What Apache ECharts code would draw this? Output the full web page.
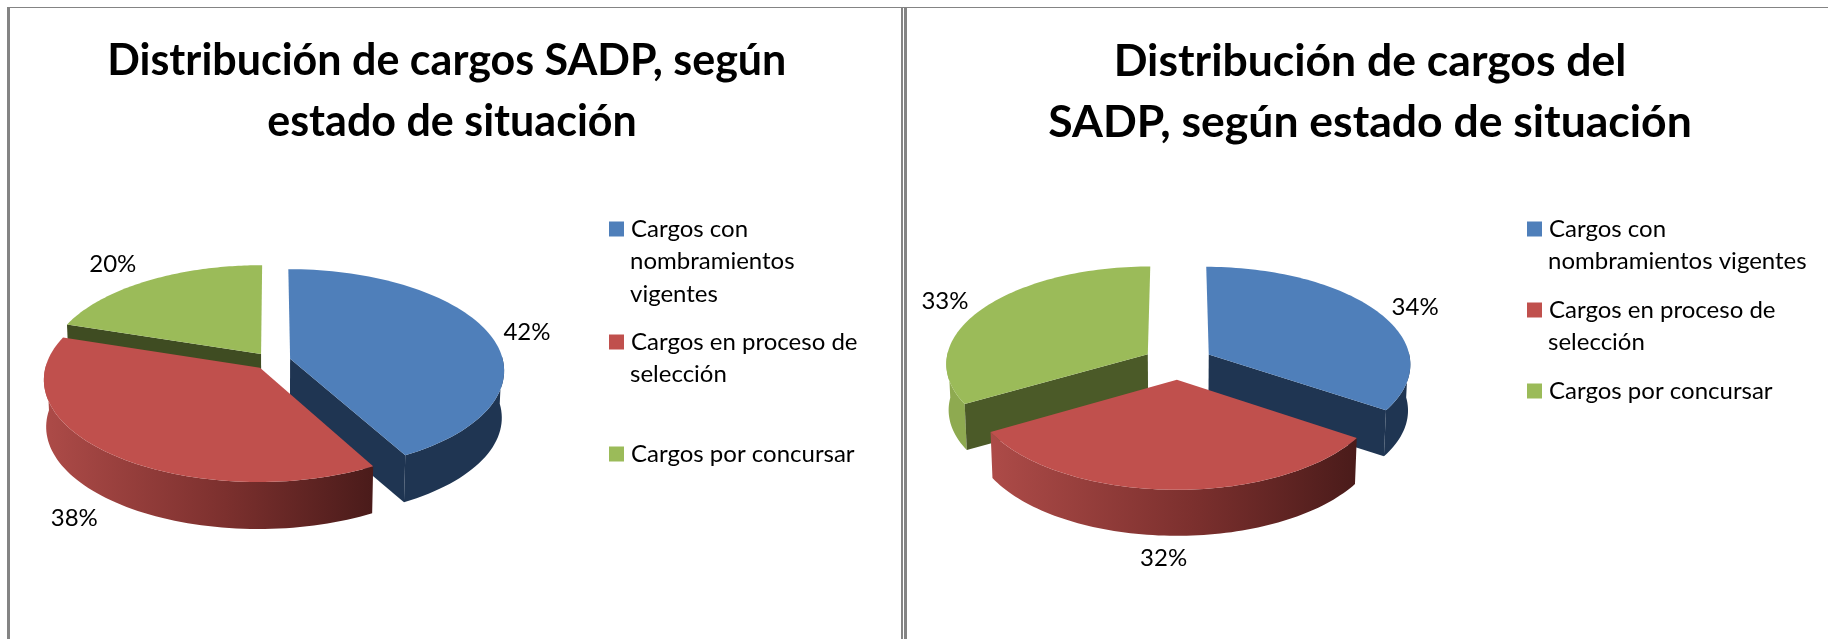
<!DOCTYPE html>
<html>
<head>
<meta charset="utf-8">
<style>
  html, body { margin: 0; padding: 0; background: #fff; }
  #main { width: 1828px; height: 639px; }
</style>
<script src="https://cdn.jsdelivr.net/npm/echarts@6/dist/echarts.min.js"></script>
</head>
<body>
<div id="main"></div>
<script>
const categories = ['Cargos con nombramientos vigentes', 'Cargos en proceso de selección', 'Cargos por concursar'];
const leftValues = [42, 38, 20];
const rightValues = [34, 32, 33];
const leftTitle = ['Distribución de cargos SADP, según ', 'estado de situación'];
const rightTitle = ['Distribución de cargos del', 'SADP, según estado de situación'];
const leftLegendLines = [['Cargos con', 'nombramientos', 'vigentes'], ['Cargos en proceso de', 'selección'], ['Cargos por concursar']];
const rightLegendLines = [['Cargos con', 'nombramientos vigentes'], ['Cargos en proceso de', 'selección'], ['Cargos por concursar']];

const FONT = 'Lato';
const topColors = ['#4f7fba', '#c0504d', '#9bbb59'];

// pie geometry: perspective ellipse, explode amount and wall depth
const leftPie = {
  cx: 272, cy: 361, rx: 213, ry: 100, a: 0.11, explode: 0.088, depth: 47,
  cutColors: ['#1f3552', '#4b1c1b', '#3f4c22'],
  labelShift: [[37, -2], [-35, 65], [-35, -16]]
};
const rightPie = {
  cx: 1178, cy: 362.5, rx: 202, ry: 97, a: 0.09, explode: 0.174, depth: 46,
  cutColors: ['#1f3552', '#4b1c1b', '#4b5a28'],
  labelShift: [[38, -4], [-6, 69], [-38, -7]]
};

function project(pie, u, v) {
  const w = 1 - pie.a * v;
  return [pie.cx + pie.rx * u / w, pie.cy + pie.ry * v / w];
}

// bottom face sits under the top face, slightly shrunk
function drop(pie, p) {
  return [pie.cx + (p[0] - pie.cx) * 0.99, p[1] + pie.depth];
}

function sliceShapes(pie, values, index) {
  const total = values.reduce((s, v) => s + v, 0);
  const before = values.slice(0, index).reduce((s, v) => s + v, 0);
  const a0 = before / total * Math.PI * 2;
  const a1 = (before + values[index]) / total * Math.PI * 2;
  const mid = (a0 + a1) / 2;
  const ox = Math.sin(mid) * pie.explode;
  const oy = -Math.cos(mid) * pie.explode;
  const apex = project(pie, ox, oy);
  const arc = [];
  const front = [];
  const steps = 80;
  for (let i = 0; i <= steps; i++) {
    const t = a0 + (a1 - a0) * i / steps;
    const p = project(pie, ox + Math.sin(t), oy - Math.cos(t));
    arc.push(p);
    // only the front half of the rim shows a wall
    if (Math.cos(t) < 0.05) front.push(p);
  }
  const first = arc[0];
  const last = arc[arc.length - 1];
  const lower = front.map(p => drop(pie, p)).reverse();
  const outerFill = index === 1
    ? new echarts.graphic.LinearGradient(0, 0, 1, 0, [
        { offset: 0, color: '#ad4b48' },
        { offset: 0.55, color: '#7c302e' },
        { offset: 1, color: '#4a1b1a' }
      ])
    : index === 0 ? '#1f3552' : '#8eaa50';
  const poly = (points, fill) => ({ type: 'polygon', shape: { points }, style: { fill } });
  const shapes = [];
  if (front.length > 1) shapes.push(poly(front.concat(lower), outerFill));
  // cut walls only when they face the viewer
  if (Math.sin(a0) < -1e-6) {
    shapes.push(poly([apex, first, drop(pie, first), drop(pie, apex)], pie.cutColors[index]));
  }
  if (Math.sin(a1) > 1e-6) {
    shapes.push(poly([apex, last, drop(pie, last), drop(pie, apex)], pie.cutColors[index]));
  }
  shapes.push(poly([apex].concat(arc), topColors[index]));
  const rim = project(pie, ox + Math.sin(mid), oy - Math.cos(mid));
  const shift = pie.labelShift[index];
  shapes.push({
    type: 'text',
    style: {
      text: values[index] + '%',
      x: rim[0] + shift[0],
      y: rim[1] + shift[1],
      fill: '#000',
      font: '24px ' + FONT,
      textAlign: 'center',
      textVerticalAlign: 'middle'
    }
  });
  return shapes;
}

function pieSeries(pie, values) {
  // red slice stays in front of the other two walls
  return categories.map((name, index) => ({
    type: 'custom',
    name,
    coordinateSystem: 'none',
    z: index === 1 ? 3 : 2,
    silent: true,
    itemStyle: { color: topColors[index] },
    data: [[values[index]]],
    renderItem() {
      return { type: 'group', children: sliceShapes(pie, values, index) };
    }
  }));
}

function legendParts(lines, left, tops) {
  const legends = [];
  const extra = [];
  lines.forEach((row, i) => {
    legends.push({
      data: [categories[i]],
      left,
      top: tops[i],
      padding: 0,
      itemWidth: 15,
      itemHeight: 15,
      itemGap: 0,
      icon: 'rect',
      selectedMode: false,
      formatter: () => row[0],
      textStyle: { fontFamily: FONT, fontSize: 24, color: '#000', padding: [0, 0, 0, 2] }
    });
    row.slice(1).forEach((text, n) => {
      extra.push({
        type: 'text',
        left: left + 21,
        top: tops[i] + 32.5 * (n + 1),
        style: { text, fill: '#000', font: '24px ' + FONT }
      });
    });
  });
  return { legends, extra };
}

const leftLegend = legendParts(leftLegendLines, 609, [217, 330, 442]);
const rightLegend = legendParts(rightLegendLines, 1527, [217, 298, 379]);

function titleOf(text, x, size) {
  return {
    text: text.join('\n'),
    left: x,
    top: 26,
    textAlign: 'center',
    textStyle: { fontFamily: FONT, fontSize: size, fontWeight: 'bold', color: '#000', lineHeight: 61 }
  };
}

function frame(x, y, w, h) {
  return { type: 'rect', shape: { x, y, width: w, height: h }, style: { fill: '#848484' } };
}

const chart = echarts.init(document.getElementById('main'));
chart.setOption({
  animation: false,
  backgroundColor: '#fff',
  title: [titleOf(leftTitle, 447, 43), titleOf(rightTitle, 1365, 44.5)],
  legend: leftLegend.legends.concat(rightLegend.legends),
  graphic: [
    frame(7, 7, 1821, 1),
    frame(7, 7, 3, 632),
    frame(901, 7, 2, 632),
    frame(904, 7, 3, 632)
  ].concat(leftLegend.extra, rightLegend.extra),
  series: pieSeries(leftPie, leftValues).concat(pieSeries(rightPie, rightValues))
});
</script>
</body>
</html>
